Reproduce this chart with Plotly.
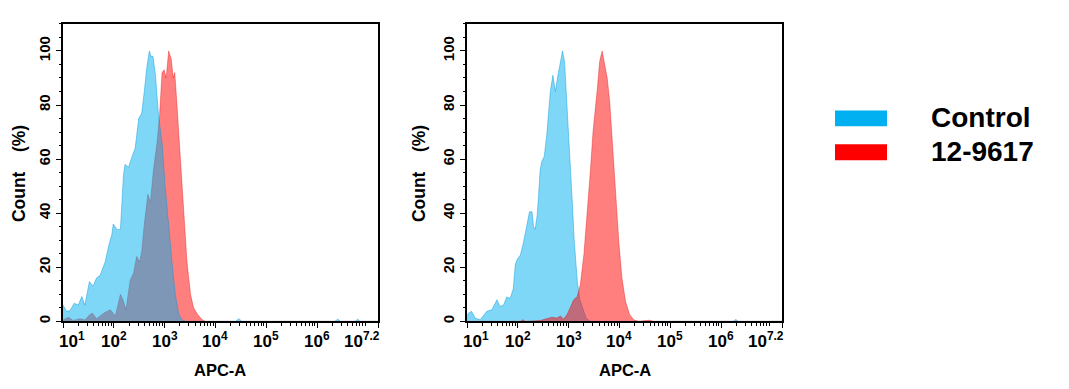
import plotly.graph_objects as go

# ---------------- data (x in log10(APC-A) units, y = Count %) ----------------
left_control_log = [1.00, 1.07, 1.14, 1.22, 1.30, 1.37, 1.43, 1.52, 1.59, 1.66, 1.73, 1.83, 1.90, 1.96,
                    1.99, 2.06, 2.13, 2.19, 2.22, 2.29, 2.36, 2.42, 2.49, 2.55, 2.60, 2.65, 2.70, 2.73,
                    2.77, 2.82, 2.88, 2.95, 3.01, 3.08, 3.15, 3.21, 3.28, 3.34, 3.41, 4.40, 4.46, 4.52,
                    6.35, 6.41, 6.46, 6.75, 6.80, 6.85, 7.20]
left_control_pct = [6, 3.7, 4, 6.7, 6, 9.2, 6, 14.7, 13, 16, 17, 22, 28, 32,
                    36, 34, 34, 54, 58, 57, 61, 64, 75, 77, 85, 94, 100, 98,
                    98, 91, 76, 66, 50, 34, 21, 10, 2.5, 0.6, 0, 0, 1.0, 0,
                    0, 0.8, 0, 0, 0.8, 0, 0]

left_sample_log = [1.00, 1.11, 1.20, 1.34, 1.43, 1.53, 1.58, 1.66, 1.80, 1.93, 2.03, 2.13, 2.18, 2.24,
                   2.32, 2.39, 2.45, 2.51, 2.55, 2.60, 2.67, 2.72, 2.78, 2.85, 2.90, 2.95, 2.99, 3.03,
                   3.08, 3.13, 3.17, 3.20, 3.24, 3.31, 3.38, 3.44, 3.51, 3.57, 3.65, 3.74, 3.80, 7.20]
left_sample_pct = [0.5, 1.5, 0.3, 1, 0.5, 2.5, 3, 1, 3, 4.3, 2, 10, 8, 4.3,
                   15, 18, 24, 22, 26, 36, 47, 44, 56, 66, 76, 92, 93, 90,
                   100, 97, 90, 92, 81, 60, 39, 22, 10, 5, 2.5, 0.6, 0, 0]

right_control_log = [1.00, 1.03, 1.09, 1.16, 1.26, 1.39, 1.49, 1.59, 1.65, 1.72, 1.78, 1.85, 1.91, 1.95,
                     1.99, 2.05, 2.11, 2.18, 2.23, 2.28, 2.31, 2.34, 2.38, 2.41, 2.44, 2.47, 2.52, 2.57,
                     2.64, 2.69, 2.74, 2.78, 2.84, 2.88, 2.92, 2.97, 3.02, 3.07, 3.11, 3.17, 3.22, 3.29,
                     3.35, 3.43, 6.24, 6.29, 6.34, 7.20]
right_control_pct = [2, 3, 3.7, 1.2, 0.6, 3.7, 4.3, 8, 5.5, 6, 9, 8.5, 12, 21,
                     23, 24.5, 29, 36, 40.5, 40.5, 35, 34, 39, 47, 56, 59, 61, 69,
                     85, 91, 85, 90, 96, 100, 96, 80, 62, 45, 30, 15, 8, 4,
                     1, 0, 0, 0.7, 0, 0]

right_sample_log = [1.00, 2.05, 2.10, 2.15, 2.44, 2.57, 2.67, 2.77, 2.84, 2.90, 2.97, 3.03, 3.10, 3.17,
                    3.23, 3.30, 3.36, 3.43, 3.48, 3.53, 3.57, 3.61, 3.66, 3.70, 3.76, 3.81, 3.86, 3.92,
                    3.99, 4.05, 4.12, 4.20, 4.28, 4.38, 4.58, 4.68, 7.20]
right_sample_pct = [0, 0, 0.6, 0, 0.3, 1, 1.5, 1.2, 2, 0.8, 2.5, 5, 8, 9.2,
                    13.5, 24.5, 38, 56, 70, 78.5, 87, 96, 100, 96, 90, 81, 66, 47,
                    29, 16, 7.4, 2.5, 0.6, 0, 0.4, 0, 0]

series_names = ["Control", "12-9617"]
x_tick_exps = [1, 2, 3, 4, 5, 6, 7.2]
x_tick_text = ["10<sup>1</sup>", "10<sup>2</sup>", "10<sup>3</sup>", "10<sup>4</sup>",
               "10<sup>5</sup>", "10<sup>6</sup>", "10<sup>7.2</sup>"]
y_tick_vals = [0, 20, 40, 60, 80, 100]
x_title = "APC-A"
y_title = "Count&nbsp;&nbsp;&nbsp;&nbsp;(%)"

# ---------------- styling ----------------
W, H = 1069, 389
FONT = "Liberation Sans, Arial, sans-serif"
BLUE_FILL = "rgba(0,176,240,0.5)"
RED_FILL = "rgba(255,0,0,0.5)"
BLUE_LINE = "rgba(0,150,215,0.55)"
RED_LINE = "rgba(215,0,0,0.45)"
BLUE_SOLID = "#00b0f0"
RED_SOLID = "#ff0000"

def px_x(p):
    return p / W

def px_y(p):
    return (H - p) / H

fig = go.Figure()

def add_hist(xlog, y, fill, line, xa, ya):
    fig.add_trace(go.Scatter(
        x=[10 ** v for v in xlog], y=y, xaxis=xa, yaxis=ya, mode="lines",
        fill="tozeroy", fillcolor=fill, line=dict(color=line, width=0.8),
        showlegend=False, hoverinfo="skip"))

# left panel: sample underneath, control on top
add_hist(left_sample_log, left_sample_pct, RED_FILL, RED_LINE, "x", "y")
add_hist(left_control_log, left_control_pct, BLUE_FILL, BLUE_LINE, "x", "y")
# right panel: control underneath, sample on top
add_hist(right_control_log, right_control_pct, BLUE_FILL, BLUE_LINE, "x2", "y2")
add_hist(right_sample_log, right_sample_pct, RED_FILL, RED_LINE, "x2", "y2")

minor_x = [m * 10 ** k for k in range(1, 8) for m in range(2, 10) if m * 10 ** k < 10 ** 7.2]

def xaxis_cfg(domain, anchor):
    return dict(type="log", range=[1, 7.2], domain=domain, anchor=anchor,
                tickvals=[10 ** e for e in x_tick_exps], showticklabels=False,
                ticks="outside", ticklen=5, tickwidth=1.3, tickcolor="black",
                showline=True, linecolor="black", linewidth=1.6, mirror=True,
                showgrid=False, zeroline=False,
                minor=dict(tickvals=minor_x, ticks="outside", ticklen=2.5,
                           tickwidth=1, tickcolor="black", showgrid=False))

def yaxis_cfg(anchor):
    return dict(range=[0, 110], domain=[px_y(323), px_y(24)], tickvals=y_tick_vals, anchor=anchor,
                tickangle=-90, tickfont=dict(family=FONT, size=15, color="black", weight="bold"),
                ticks="outside", ticklen=5, tickwidth=1.3, tickcolor="black",
                showline=True, linecolor="black", linewidth=1.6, mirror=True,
                showgrid=False, zeroline=False,
                minor=dict(dtick=5, ticks="outside", ticklen=2.5, tickwidth=1,
                           tickcolor="black", showgrid=False))

annotations = []
shifts = {0: 9, len(x_tick_exps) - 1: -16}
for xref in ["x", "x2"]:
    for i, (e, t) in enumerate(zip(x_tick_exps, x_tick_text)):
        annotations.append(dict(x=e, y=px_y(342), xref=xref, yref="paper", text=t,
                                showarrow=False, xanchor="center", yanchor="middle",
                                xshift=shifts.get(i, 0),
                                font=dict(family=FONT, size=17, color="black", weight="bold")))

for cx, ly in [(220.5, 19), (624.5, 419)]:
    annotations.append(dict(x=px_x(cx), y=px_y(372), xref="paper", yref="paper", text=x_title,
                            showarrow=False, xanchor="center", yanchor="middle",
                            font=dict(family=FONT, size=16.5, color="black", weight="bold")))
    annotations.append(dict(x=px_x(ly), y=px_y(175), xref="paper", yref="paper", text=y_title,
                            showarrow=False, xanchor="center", yanchor="middle", textangle=-90,
                            font=dict(family=FONT, size=17.5, color="black", weight="bold")))

# legend
shapes = []
for name, col, (y0, y1), ty in [(series_names[0], BLUE_SOLID, (111, 127), 118),
                                (series_names[1], RED_SOLID, (145, 161), 152)]:
    shapes.append(dict(type="rect", xref="paper", yref="paper", x0=px_x(835), x1=px_x(887),
                       y0=px_y(y1), y1=px_y(y0), fillcolor=col, line=dict(width=0)))
    annotations.append(dict(x=px_x(929), y=px_y(ty), xref="paper", yref="paper", text=name,
                            showarrow=False, xanchor="left", yanchor="middle",
                            font=dict(family=FONT, size=28, color="black", weight="bold")))

fig.update_layout(width=W, height=H, autosize=False,
                  margin=dict(l=0, r=0, t=0, b=0),
                  paper_bgcolor="white", plot_bgcolor="white",
                  xaxis=xaxis_cfg([px_x(63), px_x(378)], "y"),
                  xaxis2=xaxis_cfg([px_x(467), px_x(782)], "y2"),
                  yaxis=yaxis_cfg("x"), yaxis2=yaxis_cfg("x2"),
                  annotations=annotations, shapes=shapes, showlegend=False)

fig.write_html("out.html", config={"displayModeBar": False},
               post_script="document.body.style.margin='0px';")
